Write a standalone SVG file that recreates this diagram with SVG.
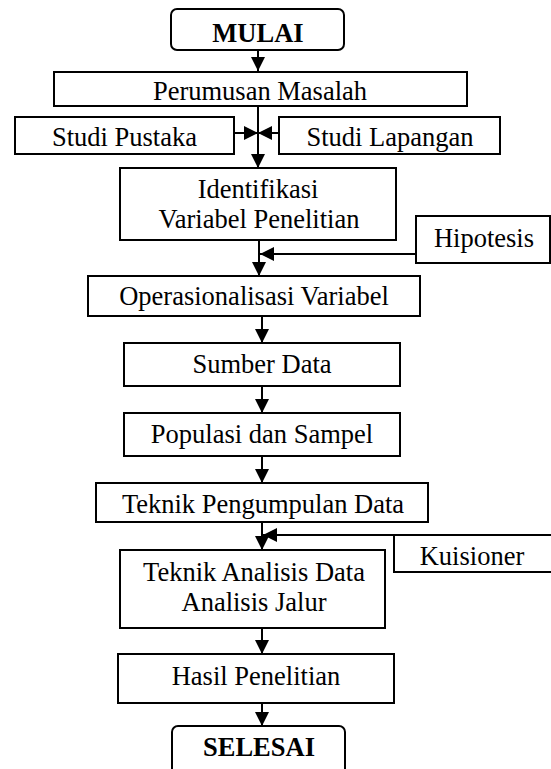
<svg xmlns="http://www.w3.org/2000/svg" width="551" height="769" viewBox="0 0 551 769">
<style>
.box{fill:#fff;stroke:#000;stroke-width:2}
.t{font-family:"Liberation Serif","Times New Roman",serif;font-size:26.5px;fill:#000;text-anchor:middle}
.b{font-weight:bold}
.c{stroke:#000;stroke-width:2;fill:none}
</style>
<defs>
<marker id="ah" markerUnits="userSpaceOnUse" markerWidth="15" markerHeight="14" refX="14" refY="7" orient="auto">
<path d="M0,0 L14,7 L0,14 z" fill="#000"/>
</marker>
</defs>
<rect width="551" height="769" fill="#fff"/>
<g id="connectors">
<line class="c" x1="258" y1="50" x2="258" y2="71" marker-end="url(#ah)"/>
<line class="c" x1="258" y1="106" x2="258" y2="168" marker-end="url(#ah)"/>
<line class="c" x1="234" y1="133" x2="258" y2="133" marker-end="url(#ah)"/>
<line class="c" x1="279" y1="133" x2="258" y2="133" marker-end="url(#ah)"/>
<line class="c" x1="259" y1="240" x2="259" y2="276" marker-end="url(#ah)"/>
<line class="c" x1="416" y1="254" x2="260" y2="254" marker-end="url(#ah)"/>
<line class="c" x1="262" y1="316" x2="262" y2="343" marker-end="url(#ah)"/>
<line class="c" x1="262" y1="386" x2="262" y2="413" marker-end="url(#ah)"/>
<line class="c" x1="262" y1="456" x2="262" y2="483" marker-end="url(#ah)"/>
<line class="c" x1="262" y1="522" x2="262" y2="550" marker-end="url(#ah)"/>
<line class="c" x1="395" y1="535" x2="263" y2="535" marker-end="url(#ah)"/>
<line class="c" x1="262" y1="628" x2="262" y2="654" marker-end="url(#ah)"/>
<line class="c" x1="262" y1="703" x2="262" y2="726" marker-end="url(#ah)"/>
</g>
<g id="mulai"><rect class="box" x="171" y="9" width="173" height="41" rx="6"/><text class="t b" x="258" y="42">MULAI</text></g>
<g id="perumusan"><rect class="box" x="54" y="72" width="413" height="34"/><text class="t" x="260" y="100">Perumusan Masalah</text></g>
<g id="studi-pustaka"><rect class="box" x="15" y="117" width="219" height="37"/><text class="t" x="124.5" y="146">Studi Pustaka</text></g>
<g id="studi-lapangan"><rect class="box" x="279" y="117" width="221" height="37"/><text class="t" x="390" y="146">Studi Lapangan</text></g>
<g id="identifikasi"><rect class="box" x="120" y="168" width="276" height="72"/><text class="t" x="258" y="198">Identifikasi</text><text class="t" x="259" y="228">Variabel Penelitian</text></g>
<g id="hipotesis"><rect class="box" x="416" y="216" width="134" height="47"/><text class="t" x="484" y="247">Hipotesis</text></g>
<g id="operasionalisasi"><rect class="box" x="88" y="276" width="332" height="40"/><text class="t" x="254" y="305">Operasionalisasi Variabel</text></g>
<g id="sumber-data"><rect class="box" x="124" y="343" width="276" height="43"/><text class="t" x="262" y="373">Sumber Data</text></g>
<g id="populasi"><rect class="box" x="124" y="413" width="276" height="43"/><text class="t" x="262" y="443">Populasi dan Sampel</text></g>
<g id="teknik-pengumpulan"><rect class="box" x="96" y="483" width="332" height="39"/><text class="t" x="263" y="513">Teknik Pengumpulan Data</text></g>
<g id="kuisioner"><rect class="box" x="394" y="535" width="158" height="37"/><text class="t" x="472" y="565">Kuisioner</text></g>
<g id="teknik-analisis"><rect class="box" x="120" y="550" width="265" height="78"/><text class="t" x="254" y="581">Teknik Analisis Data</text><text class="t" x="254" y="611">Analisis Jalur</text></g>
<g id="hasil"><rect class="box" x="118" y="654" width="276" height="49"/><text class="t" x="256" y="685">Hasil Penelitian</text></g>
<g id="selesai"><rect class="box" x="172" y="726" width="173" height="60" rx="6"/><text class="t b" x="259" y="756">SELESAI</text></g>
</svg>
